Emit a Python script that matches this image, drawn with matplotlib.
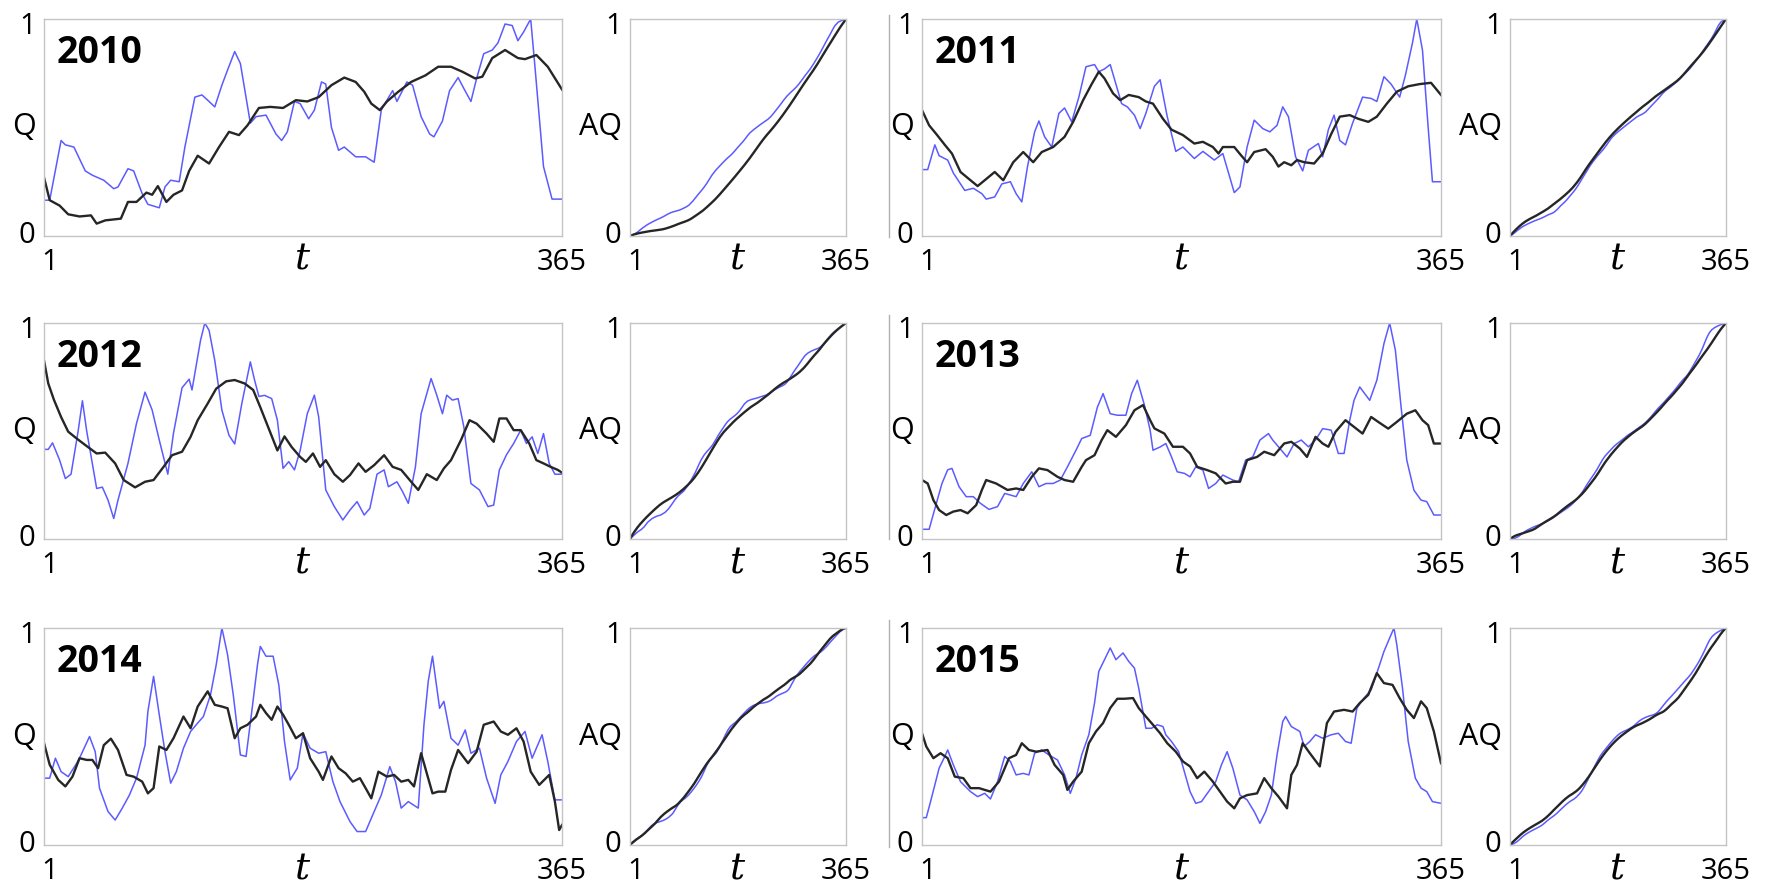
import numpy as np
import matplotlib
matplotlib.use("Agg")
import matplotlib.pyplot as plt
from matplotlib.lines import Line2D
from matplotlib.transforms import ScaledTranslation

plt.rcParams['font.family'] = ['Open Sans', 'DejaVu Sans']

years = [2010, 2011, 2012, 2013, 2014, 2015]

# daily discharge, normalised to the yearly maximum (blue = observed, black = model)
blue_2010_day = [1, 5, 13, 16, 22, 30, 35, 43, 50, 53, 60, 64, 70, 74, 82, 86, 90, 96, 100, 107,
                 112, 116, 121, 126, 130, 135, 139, 146, 150, 157, 164, 168, 172, 177, 181, 187, 191, 196, 199, 203,
                 208, 212, 220, 227, 233, 238, 242, 246, 249, 256, 260, 266, 272, 275, 281, 286, 292, 296, 301, 305,
                 310, 316, 320, 325, 330, 334, 338, 343, 346, 352, 358, 365]
blue_2010 = [0.165, 0.165, 0.44, 0.42, 0.41, 0.30, 0.28, 0.257, 0.218, 0.226, 0.31, 0.30, 0.195, 0.146, 0.13, 0.226, 0.257, 0.25, 0.41, 0.64,
             0.65, 0.626, 0.595, 0.695, 0.765, 0.85, 0.795, 0.52, 0.55, 0.557, 0.47, 0.44, 0.48, 0.62, 0.61, 0.54, 0.58, 0.71, 0.70, 0.50,
             0.395, 0.41, 0.365, 0.365, 0.34, 0.58, 0.626, 0.67, 0.62, 0.71, 0.695, 0.55, 0.47, 0.457, 0.53, 0.67, 0.73, 0.68, 0.62, 0.726,
             0.84, 0.857, 0.89, 0.977, 0.97, 0.90, 0.94, 1.0, 0.78, 0.32, 0.17, 0.17]
black_2010_day = [1, 5, 12, 18, 26, 34, 38, 44, 55, 60, 66, 73, 77, 81, 87, 92, 98, 103, 109, 117,
                  124, 131, 138, 144, 152, 160, 169, 178, 186, 194, 203, 212, 220, 226, 231, 237, 242, 250, 259, 269,
                  278, 287, 295, 304, 309, 316, 325, 334, 339, 347, 355, 365]
black_2010 = [0.27, 0.165, 0.14, 0.10, 0.09, 0.095, 0.057, 0.072, 0.08, 0.157, 0.157, 0.20, 0.19, 0.23, 0.157, 0.19, 0.21, 0.30, 0.37, 0.334,
              0.41, 0.48, 0.465, 0.51, 0.59, 0.595, 0.59, 0.626, 0.62, 0.64, 0.695, 0.73, 0.71, 0.665, 0.61, 0.58, 0.62, 0.665, 0.71, 0.74,
              0.78, 0.78, 0.757, 0.726, 0.734, 0.82, 0.857, 0.82, 0.815, 0.834, 0.78, 0.675]

blue_2011_day = [1, 5, 10, 13, 19, 23, 31, 37, 43, 46, 52, 57, 63, 67, 71, 75, 80, 83, 87, 92,
                 97, 101, 106, 111, 116, 122, 125, 129, 133, 137, 141, 145, 150, 154, 158, 164, 168, 173, 179, 184,
                 192, 198, 206, 212, 216, 220, 224, 229, 234, 240, 245, 250, 254, 258, 263, 268, 272, 279, 282, 286,
                 290, 294, 298, 303, 310, 316, 320, 325, 330, 336, 340, 345, 348, 352, 356, 359, 365]
blue_2011 = [0.306, 0.306, 0.42, 0.37, 0.35, 0.29, 0.21, 0.22, 0.195, 0.17, 0.18, 0.24, 0.25, 0.195, 0.157, 0.32, 0.48, 0.53, 0.457, 0.41,
             0.565, 0.59, 0.526, 0.64, 0.78, 0.79, 0.757, 0.77, 0.79, 0.70, 0.61, 0.595, 0.557, 0.495, 0.565, 0.69, 0.72, 0.55, 0.39, 0.41,
             0.357, 0.39, 0.35, 0.38, 0.29, 0.20, 0.226, 0.41, 0.534, 0.495, 0.48, 0.51, 0.595, 0.55, 0.365, 0.30, 0.395, 0.426, 0.365, 0.49,
             0.557, 0.44, 0.42, 0.52, 0.64, 0.634, 0.62, 0.734, 0.70, 0.64, 0.74, 0.89, 1.0, 0.857, 0.50, 0.25, 0.25]
black_2011_day = [1, 6, 11, 17, 22, 28, 35, 40, 45, 52, 58, 65, 72, 79, 85, 93, 101, 107, 114, 120,
                  125, 129, 135, 140, 146, 153, 158, 163, 170, 176, 184, 192, 198, 205, 209, 212, 220, 225, 229, 234,
                  242, 247, 251, 255, 260, 264, 269, 276, 282, 288, 294, 301, 307, 314, 320, 327, 334, 342, 350, 358, 365]
black_2011 = [0.58, 0.51, 0.47, 0.42, 0.38, 0.295, 0.257, 0.23, 0.257, 0.295, 0.257, 0.34, 0.387, 0.34, 0.387, 0.41, 0.457, 0.526, 0.626, 0.70,
              0.757, 0.726, 0.657, 0.626, 0.65, 0.64, 0.62, 0.61, 0.54, 0.49, 0.465, 0.426, 0.434, 0.41, 0.38, 0.41, 0.41, 0.37, 0.34, 0.387,
              0.40, 0.365, 0.32, 0.34, 0.326, 0.35, 0.34, 0.334, 0.38, 0.47, 0.55, 0.557, 0.54, 0.526, 0.55, 0.61, 0.665, 0.69, 0.70, 0.706, 0.65]

blue_2012_day = [1, 4, 7, 12, 16, 20, 25, 28, 31, 38, 42, 46, 50, 53, 60, 66, 72, 77, 82, 88,
                 92, 98, 103, 105, 111, 114, 117, 121, 126, 131, 135, 140, 146, 149, 152, 156, 161, 165, 169, 173,
                 177, 181, 186, 191, 194, 199, 205, 211, 216, 221, 226, 230, 235, 240, 243, 249, 253, 257, 262, 266,
                 273, 277, 281, 284, 288, 292, 296, 301, 307, 313, 317, 321, 326, 331, 336, 340, 344, 348, 352, 356, 360, 365]
blue_2012 = [0.415, 0.415, 0.445, 0.365, 0.28, 0.30, 0.50, 0.64, 0.50, 0.234, 0.24, 0.18, 0.095, 0.18, 0.35, 0.535, 0.68, 0.597, 0.458, 0.30,
             0.49, 0.70, 0.74, 0.69, 0.92, 1.0, 0.966, 0.827, 0.597, 0.48, 0.44, 0.627, 0.82, 0.735, 0.66, 0.665, 0.65, 0.55, 0.327, 0.358,
             0.32, 0.41, 0.58, 0.666, 0.566, 0.227, 0.15, 0.088, 0.134, 0.173, 0.111, 0.142, 0.30, 0.32, 0.242, 0.265, 0.219, 0.165, 0.334, 0.58,
             0.743, 0.666, 0.58, 0.666, 0.643, 0.65, 0.52, 0.257, 0.227, 0.15, 0.157, 0.32, 0.39, 0.442, 0.504, 0.442, 0.473, 0.396, 0.488, 0.35,
             0.30, 0.30]
black_2012_day = [1, 4, 8, 13, 18, 24, 30, 38, 44, 51, 57, 65, 72, 78, 85, 91, 98, 104, 109, 116,
                  122, 129, 135, 142, 148, 153, 159, 165, 170, 175, 181, 185, 190, 195, 199, 205, 211, 216, 222, 227,
                  233, 240, 246, 252, 259, 264, 270, 277, 282, 287, 294, 300, 305, 312, 317, 321, 326, 331, 336, 342,
                  347, 352, 357, 362, 365]
black_2012 = [0.827, 0.72, 0.644, 0.565, 0.497, 0.465, 0.435, 0.396, 0.40, 0.35, 0.273, 0.239, 0.265, 0.273, 0.334, 0.388, 0.404, 0.473, 0.55, 0.627,
              0.696, 0.73, 0.736, 0.72, 0.69, 0.61, 0.51, 0.41, 0.475, 0.426, 0.38, 0.357, 0.396, 0.334, 0.365, 0.30, 0.265, 0.296, 0.35, 0.311,
              0.342, 0.388, 0.334, 0.32, 0.265, 0.227, 0.30, 0.273, 0.327, 0.365, 0.458, 0.55, 0.534, 0.488, 0.45, 0.558, 0.558, 0.504, 0.504, 0.442,
              0.365, 0.35, 0.334, 0.32, 0.307]

blue_2013_day = [1, 6, 10, 15, 19, 22, 27, 32, 37, 42, 48, 54, 59, 67, 72, 78, 83, 88, 93, 98,
                 103, 109, 113, 119, 124, 128, 133, 138, 144, 148, 152, 157, 161, 163, 168, 172, 176, 180, 185, 189,
                 193, 198, 202, 207, 212, 219, 223, 228, 233, 238, 244, 247, 251, 257, 262, 267, 272, 277, 282, 288,
                 293, 297, 301, 304, 308, 315, 320, 325, 329, 333, 337, 341, 346, 351, 355, 360, 365]
blue_2013 = [0.045, 0.045, 0.14, 0.257, 0.32, 0.327, 0.242, 0.196, 0.196, 0.165, 0.137, 0.15, 0.211, 0.196, 0.257, 0.311, 0.242, 0.257, 0.257, 0.273,
             0.334, 0.411, 0.465, 0.48, 0.61, 0.673, 0.58, 0.573, 0.573, 0.673, 0.735, 0.62, 0.504, 0.411, 0.426, 0.442, 0.38, 0.311, 0.304, 0.288,
             0.334, 0.319, 0.234, 0.257, 0.296, 0.273, 0.265, 0.365, 0.38, 0.458, 0.488, 0.458, 0.427, 0.38, 0.442, 0.458, 0.427, 0.458, 0.511, 0.504,
             0.396, 0.396, 0.55, 0.642, 0.704, 0.642, 0.735, 0.905, 1.0, 0.874, 0.612, 0.365, 0.226, 0.18, 0.173, 0.111, 0.111]
black_2013_day = [1, 5, 9, 13, 18, 23, 28, 33, 39, 43, 46, 53, 61, 67, 72, 78, 83, 89, 96, 101,
                  107, 113, 116, 122, 127, 131, 137, 144, 150, 156, 161, 164, 171, 177, 184, 189, 194, 201, 207, 214,
                  219, 224, 229, 236, 241, 248, 255, 260, 266, 271, 277, 282, 286, 291, 298, 304, 310, 316, 321, 328,
                  334, 341, 347, 352, 356, 360, 365]
black_2013 = [0.273, 0.257, 0.18, 0.134, 0.111, 0.127, 0.134, 0.119, 0.157, 0.227, 0.273, 0.257, 0.227, 0.234, 0.227, 0.288, 0.327, 0.319, 0.288, 0.273,
              0.265, 0.334, 0.365, 0.388, 0.458, 0.504, 0.473, 0.527, 0.596, 0.62, 0.55, 0.512, 0.488, 0.427, 0.427, 0.396, 0.334, 0.319, 0.304, 0.257,
              0.265, 0.265, 0.365, 0.38, 0.404, 0.388, 0.442, 0.45, 0.419, 0.38, 0.473, 0.442, 0.427, 0.496, 0.55, 0.519, 0.488, 0.565, 0.542, 0.511,
              0.542, 0.58, 0.596, 0.55, 0.527, 0.442, 0.442]

blue_2014_day = [1, 5, 9, 13, 18, 24, 27, 33, 37, 40, 46, 51, 56, 61, 66, 72, 74, 78, 82, 86,
                 90, 94, 99, 104, 109, 113, 118, 122, 126, 130, 134, 139, 143, 147, 151, 153, 157, 162, 166, 170,
                 174, 179, 183, 188, 194, 199, 204, 209, 216, 221, 227, 233, 238, 244, 248, 252, 257, 264, 268, 271,
                 274, 279, 282, 287, 292, 297, 301, 307, 312, 318, 322, 327, 333, 339, 344, 351, 355, 360, 365]
blue_2014 = [0.308, 0.308, 0.40, 0.338, 0.315, 0.377, 0.415, 0.50, 0.43, 0.262, 0.154, 0.115, 0.17, 0.23, 0.308, 0.46, 0.615, 0.777, 0.60, 0.43,
             0.285, 0.338, 0.446, 0.523, 0.562, 0.592, 0.692, 0.83, 1.0, 0.877, 0.692, 0.415, 0.408, 0.615, 0.83, 0.915, 0.87, 0.87, 0.738, 0.477,
             0.30, 0.354, 0.515, 0.446, 0.423, 0.43, 0.292, 0.20, 0.108, 0.062, 0.062, 0.154, 0.23, 0.361, 0.292, 0.17, 0.20, 0.17, 0.554, 0.754,
             0.87, 0.63, 0.662, 0.492, 0.46, 0.53, 0.423, 0.446, 0.308, 0.192, 0.323, 0.385, 0.477, 0.523, 0.40, 0.508, 0.385, 0.208, 0.208]
black_2014_day = [1, 5, 11, 16, 21, 26, 31, 35, 39, 43, 48, 53, 59, 64, 70, 74, 78, 82, 87, 92,
                  99, 104, 109, 116, 121, 126, 130, 135, 139, 144, 150, 153, 157, 161, 165, 169, 173, 178, 183, 188,
                  194, 197, 203, 208, 213, 218, 223, 227, 231, 236, 242, 247, 252, 257, 261, 266, 270, 274, 278, 283,
                  287, 292, 299, 305, 310, 317, 322, 327, 333, 338, 343, 349, 356, 360, 363, 365]
black_2014 = [0.47, 0.37, 0.30, 0.27, 0.315, 0.40, 0.392, 0.392, 0.354, 0.46, 0.49, 0.438, 0.323, 0.315, 0.292, 0.238, 0.262, 0.454, 0.438, 0.492,
              0.592, 0.538, 0.638, 0.708, 0.646, 0.638, 0.63, 0.492, 0.538, 0.554, 0.592, 0.646, 0.608, 0.577, 0.638, 0.60, 0.554, 0.492, 0.515, 0.40,
              0.338, 0.30, 0.408, 0.354, 0.33, 0.292, 0.308, 0.262, 0.215, 0.338, 0.315, 0.323, 0.292, 0.30, 0.27, 0.423, 0.33, 0.238, 0.246, 0.246,
              0.346, 0.438, 0.377, 0.43, 0.554, 0.569, 0.523, 0.508, 0.538, 0.477, 0.338, 0.277, 0.323, 0.20, 0.069, 0.092]

blue_2015_day = [1, 4, 7, 13, 17, 19, 23, 28, 35, 40, 45, 49, 54, 59, 63, 67, 72, 76, 80, 85,
                 90, 96, 101, 105, 109, 113, 118, 122, 125, 129, 133, 137, 142, 146, 150, 153, 158, 162, 166, 170,
                 172, 176, 181, 185, 189, 193, 197, 202, 207, 211, 215, 219, 224, 229, 234, 238, 242, 246, 250, 254,
                 256, 260, 266, 269, 273, 277, 282, 288, 293, 298, 302, 306, 311, 316, 320, 325, 329, 332, 334, 338,
                 342, 347, 351, 355, 359, 365]
blue_2015 = [0.126, 0.126, 0.20, 0.354, 0.408, 0.438, 0.369, 0.292, 0.246, 0.223, 0.238, 0.212, 0.292, 0.408, 0.385, 0.323, 0.33, 0.323, 0.423, 0.438,
             0.415, 0.392, 0.323, 0.238, 0.308, 0.415, 0.508, 0.654, 0.80, 0.854, 0.908, 0.854, 0.885, 0.846, 0.815, 0.723, 0.538, 0.538, 0.554, 0.546,
             0.508, 0.477, 0.43, 0.338, 0.246, 0.192, 0.20, 0.246, 0.292, 0.369, 0.43, 0.354, 0.23, 0.208, 0.154, 0.10, 0.154, 0.23, 0.415, 0.569,
             0.592, 0.546, 0.523, 0.454, 0.477, 0.508, 0.492, 0.508, 0.515, 0.477, 0.469, 0.631, 0.677, 0.715, 0.792, 0.892, 0.954, 1.0, 0.923, 0.723,
             0.477, 0.308, 0.262, 0.246, 0.20, 0.192]
black_2015_day = [1, 4, 9, 14, 19, 24, 30, 35, 41, 49, 55, 62, 67, 71, 76, 81, 89, 94, 100, 103,
                  107, 113, 118, 123, 128, 133, 138, 143, 149, 153, 158, 163, 168, 173, 179, 184, 189, 194, 199, 205,
                  210, 215, 220, 224, 229, 236, 241, 246, 251, 257, 260, 264, 268, 273, 280, 285, 290, 297, 303, 308,
                  314, 320, 325, 331, 336, 341, 346, 351, 355, 360, 365]
black_2015 = [0.515, 0.454, 0.40, 0.423, 0.40, 0.315, 0.308, 0.262, 0.262, 0.246, 0.292, 0.40, 0.415, 0.469, 0.438, 0.43, 0.438, 0.369, 0.323, 0.254,
              0.292, 0.338, 0.469, 0.523, 0.562, 0.631, 0.674, 0.674, 0.677, 0.631, 0.592, 0.554, 0.515, 0.469, 0.43, 0.385, 0.362, 0.308, 0.338, 0.292,
              0.246, 0.20, 0.169, 0.215, 0.23, 0.238, 0.308, 0.262, 0.223, 0.169, 0.323, 0.369, 0.469, 0.423, 0.362, 0.562, 0.615, 0.623, 0.615, 0.654,
              0.692, 0.792, 0.746, 0.738, 0.677, 0.623, 0.585, 0.662, 0.631, 0.523, 0.377]

series = {
    2010: (blue_2010_day, blue_2010, black_2010_day, black_2010),
    2011: (blue_2011_day, blue_2011, black_2011_day, black_2011),
    2012: (blue_2012_day, blue_2012, black_2012_day, black_2012),
    2013: (blue_2013_day, blue_2013, black_2013_day, black_2013),
    2014: (blue_2014_day, blue_2014, black_2014_day, black_2014),
    2015: (blue_2015_day, blue_2015, black_2015_day, black_2015),
}

BLUE = '#5b5bff'
BLACK = '#262626'
FRAME = '#c4c4c4'


def accumulated(days, q):
    # cumulative volume over the year, scaled to end at 1
    days = np.asarray(days, float)
    q = np.asarray(q, float)
    inc = 0.5 * (q[1:] + q[:-1]) * np.diff(days)
    c = np.concatenate([[0.0], np.cumsum(inc)])
    return c / c[-1]


W, H = 1769, 884
fig = plt.figure(figsize=(W / 100, H / 100), dpi=100)


def add_panel(x0, x1, y0, y1):
    return fig.add_axes([x0 / W, 1 - y1 / H, (x1 - x0) / W, (y1 - y0) / H])


def nudge(text, dx, dy):
    # shift a tick label by a few pixels
    text.set_transform(text.get_transform() + ScaledTranslation(dx / 100, dy / 100, fig.dpi_scale_trans))


def style(ax, ylabel, width_px, height_px):
    ax.set_xlim(1, 365)
    ax.set_ylim(0, 1)
    ax.set_xticks([1, 365], ['1', '365'])
    ax.set_yticks([0, 1], ['0', '1'])
    ax.tick_params(length=0, labelsize=21, colors='black')
    ax.tick_params(axis='x', pad=8.5)
    ax.tick_params(axis='y', pad=6)
    xt = ax.xaxis.get_major_ticks()
    yt = ax.yaxis.get_major_ticks()
    nudge(xt[0].label1, 6, 0)
    nudge(yt[0].label1, 0, 4)
    nudge(yt[1].label1, 0, -4)
    for sp in ax.spines.values():
        sp.set_color(FRAME)
        sp.set_linewidth(1.0)
    ax.text(-8 / width_px, 0.5, ylabel, transform=ax.transAxes, ha='right', va='center', fontsize=22)
    ax.text(0.5, -34 / height_px, 't', transform=ax.transAxes, ha='center', va='baseline',
            fontsize=27, family='DejaVu Serif', style='italic')


rows = [(19, 236), (323, 539), (628, 845)]
cols = [((44, 562), (630, 846)), ((922, 1441), (1510, 1726))]

for i, year in enumerate(years):
    y0, y1 = rows[i // 2]
    (qx0, qx1), (ax0, ax1) = cols[i % 2]
    bd, bq, kd, kq = series[year]

    axq = add_panel(qx0, qx1, y0, y1)
    axq.plot(bd, bq, color=BLUE, lw=1.1)
    axq.plot(kd, kq, color=BLACK, lw=1.7)
    style(axq, 'Q', qx1 - qx0, y1 - y0)
    axq.text(13 / (qx1 - qx0), 0.797, str(year), transform=axq.transAxes, fontsize=27,
             fontweight='bold', ha='left', va='baseline')

    axa = add_panel(ax0, ax1, y0, y1)
    axa.plot(bd, accumulated(bd, bq), color=BLUE, lw=1.1)
    axa.plot(kd, accumulated(kd, kq), color=BLACK, lw=1.7)
    style(axa, 'AQ', ax1 - ax0, y1 - y0)

# thin separators left of the right-hand column
for top, bot in [(15, 237), (315, 539), (620, 847)]:
    fig.add_artist(Line2D([889 / W, 889 / W], [1 - top / H, 1 - bot / H],
                          color='#b0b0b0', lw=1.0, transform=fig.transFigure))

fig.savefig('out.png', dpi=100)
